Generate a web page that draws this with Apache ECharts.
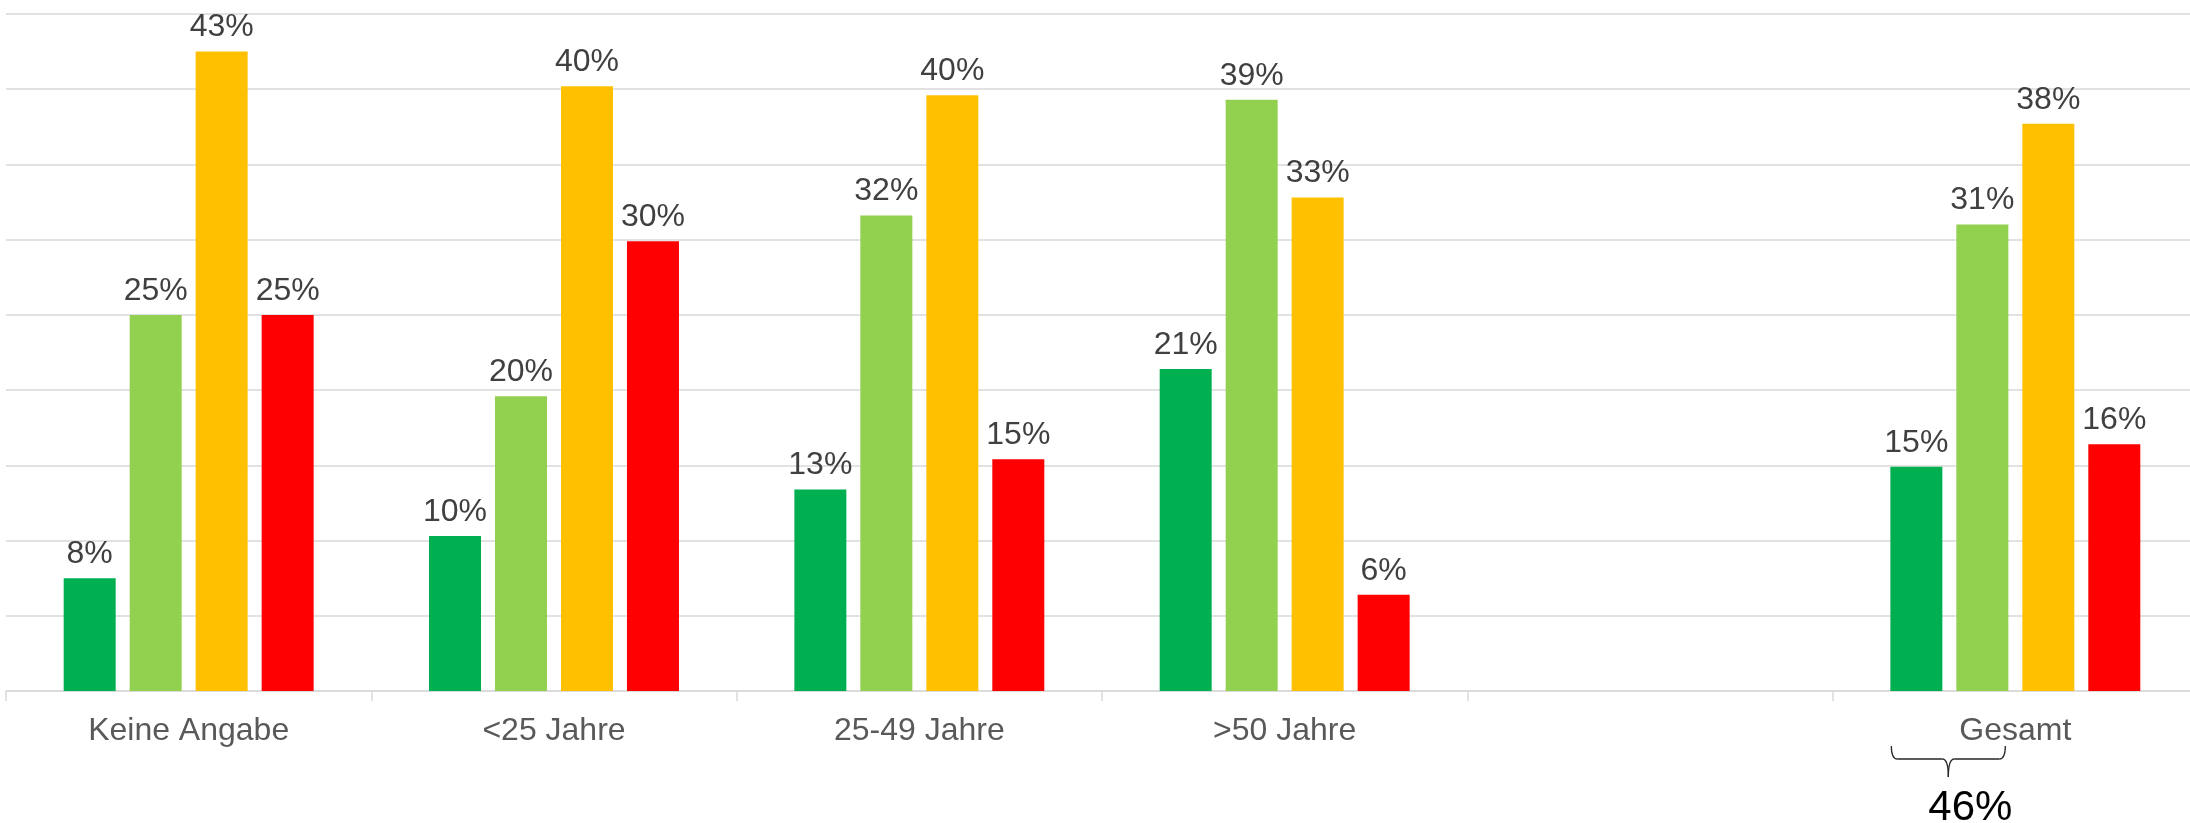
<!DOCTYPE html>
<html>
<head>
<meta charset="utf-8">
<script src="https://cdn.jsdelivr.net/npm/echarts@6/dist/echarts.min.js"></script>
<style>
  html, body { margin: 0; padding: 0; background: #ffffff; }
  #chart { width: 2190px; height: 823px; }
</style>
</head>
<body>
<div id="chart"></div>
<script>
// ---- data ----
const categories = ['Keine Angabe', '<25 Jahre', '25-49 Jahre', '>50 Jahre', '', 'Gesamt'];
const seriesNames = ['sehr gut', 'gut', 'mittel', 'schlecht'];
const valuesDarkGreen  = [7.5, 10.3, 13.4, 21.4, null, 14.9];
const valuesLightGreen = [25.0, 19.6, 31.6, 39.3, null, 31.0];
const valuesYellow     = [42.5, 40.2, 39.6, 32.8, null, 37.7];
const valuesRed        = [25.0, 29.9, 15.4, 6.4, null, 16.4];
const yTicks = { min: 0, max: 45, interval: 5 };

// ---- styles ----
const colors = ['#00B050', '#92D050', '#FFC000', '#FF0000'];
const FONT = '"Liberation Sans", Arial, sans-serif';
const BAR_W = 52, BAR_GAP = 14;

const chart = echarts.init(document.getElementById('chart'), null, { renderer: 'canvas' });

function mkSeries(name, data, color) {
  return {
    name: name,
    type: 'bar',
    data: data,
    barWidth: BAR_W,
    barGap: (BAR_GAP / BAR_W * 100).toFixed(1) + '%',
    itemStyle: { color: color },
    label: {
      show: true,
      position: 'top',
      distance: 8,
      fontFamily: FONT,
      fontSize: 32,
      color: '#404040',
      formatter: p => (p.value == null ? '' : Math.round(p.value) + '%')
    },
    animation: false
  };
}

const option = {
  backgroundColor: '#ffffff',
  animation: false,
  grid: { left: 6, width: 2192, top: 14, bottom: 132, containLabel: false, outerBoundsMode: 'none' },
  xAxis: {
    type: 'category',
    data: categories,
    axisLine: { show: true, lineStyle: { color: '#d9d9d9', width: 1.5 } },
    axisTick: { show: true, length: 10, lineStyle: { color: '#d9d9d9', width: 1.5 } },
    axisLabel: {
      interval: 0,
      margin: 24,
      fontFamily: FONT,
      fontSize: 32,
      color: '#595959'
    }
  },
  yAxis: {
    type: 'value',
    min: yTicks.min,
    max: yTicks.max,
    interval: yTicks.interval,
    axisLine: { show: false },
    axisTick: { show: false },
    axisLabel: { show: false },
    splitLine: { show: true, lineStyle: { color: '#d9d9d9', width: 1.5 } }
  },
  series: [
    mkSeries(seriesNames[0], valuesDarkGreen, colors[0]),
    mkSeries(seriesNames[1], valuesLightGreen, colors[1]),
    mkSeries(seriesNames[2], valuesYellow, colors[2]),
    mkSeries(seriesNames[3], valuesRed, colors[3])
  ]
};

chart.setOption(option);

// ---- brace annotation under "Gesamt" (sum of the two green bars) ----
function drawBrace() {
  const idx = categories.indexOf('Gesamt');
  const center = chart.convertToPixel({ gridIndex: 0 }, [idx, 0]);
  const cx = center[0], axisY = center[1];
  const groupW = 4 * BAR_W + 3 * BAR_GAP;
  const x0 = cx - groupW / 2 + 1;
  const x1 = cx - groupW / 2 + 2 * BAR_W + BAR_GAP - 3;
  const xm = (x0 + x1) / 2;
  const y0 = axisY + 55, y1 = axisY + 68, y2 = axisY + 86;
  const r = 6;
  const st = { stroke: '#262626', lineWidth: 1.3, fill: null };
  const total = Math.round(valuesDarkGreen[idx] + valuesLightGreen[idx]);
  chart.setOption({
    graphic: [
      { type: 'bezierCurve', shape: { x1: x0, y1: y0, x2: x0 + r, y2: y1, cpx1: x0, cpy1: y1 }, style: st, silent: true },
      { type: 'line', shape: { x1: x0 + r, y1: y1, x2: xm - r, y2: y1 }, style: st, silent: true },
      { type: 'bezierCurve', shape: { x1: xm - r, y1: y1, x2: xm, y2: y2, cpx1: xm, cpy1: y1 }, style: st, silent: true },
      { type: 'bezierCurve', shape: { x1: xm, y1: y2, x2: xm + r, y2: y1, cpx1: xm, cpy1: y1 }, style: st, silent: true },
      { type: 'line', shape: { x1: xm + r, y1: y1, x2: x1 - r, y2: y1 }, style: st, silent: true },
      { type: 'bezierCurve', shape: { x1: x1 - r, y1: y1, x2: x1, y2: y0, cpx1: x1, cpy1: y1 }, style: st, silent: true },
      {
        type: 'text',
        x: xm + 22, y: axisY + 96,
        style: {
          text: total + '%',
          fontFamily: FONT,
          fontSize: 42,
          fill: '#000000',
          textAlign: 'center',
          textVerticalAlign: 'top'
        },
        silent: true
      }
    ]
  });
}
drawBrace();
</script>
</body>
</html>
